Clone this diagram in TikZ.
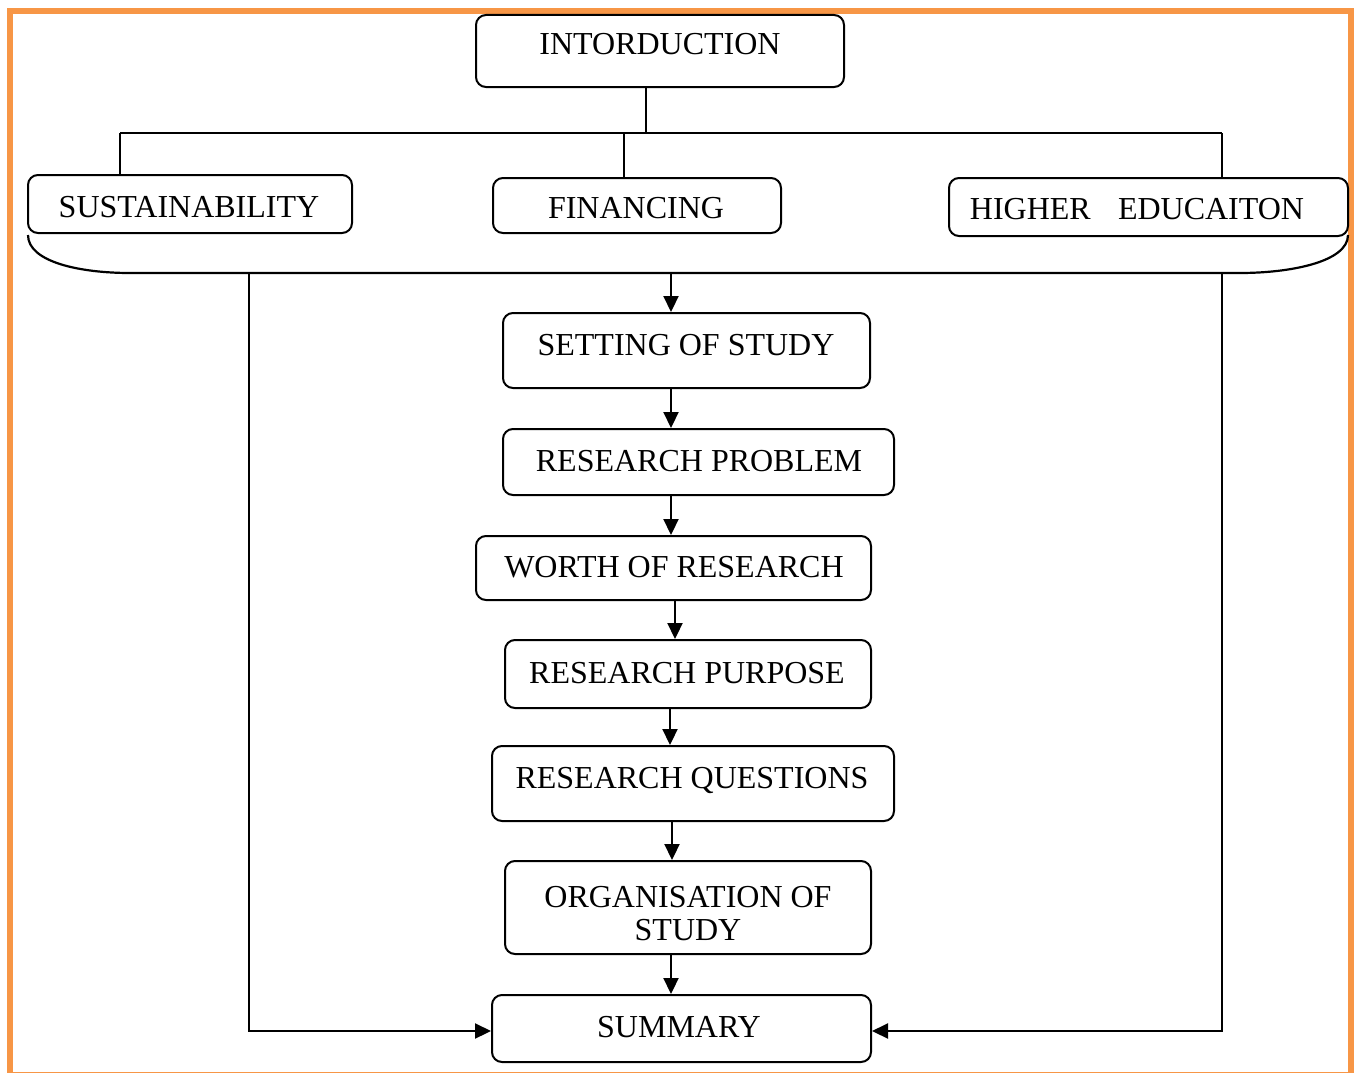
\documentclass[tikz,border=0pt]{standalone}
\usepackage{fontspec}
\setmainfont{Liberation Serif}
\usetikzlibrary{arrows.meta,fit}
\definecolor{frameorange}{HTML}{F79646}
\begin{document}
\begin{tikzpicture}[x=1pt,y=-1pt,
  box/.style={draw, line width=2pt, rounded corners=10pt, inner sep=0pt},
  lbl/.style={anchor=base, inner sep=0pt, align=center,
              font=\fontsize{32}{33}\selectfont},
  link/.style={line width=2.2pt},
  arr/.style={line width=2.2pt, -{Triangle[length=16pt,width=15pt]}}]
\useasboundingbox (0,0) rectangle (1357,1073);
% outer frame
\draw[frameorange, line width=6pt] (10,11) rectangle (1351,1075);

% boxes
\node[box, fit={(476,15) (844,87)}]    (intro) {};
\node[box, fit={(28,175) (352,233)}]   (sust) {};
\node[box, fit={(493,178) (781,233)}]  (fin) {};
\node[box, fit={(949,178) (1348,236)}] (high) {};
\node[box, fit={(503,313) (870,388)}]  (setting) {};
\node[box, fit={(503,429) (894,495)}]  (problem) {};
\node[box, fit={(476,536) (871,600)}]  (worth) {};
\node[box, fit={(505,640) (871,708)}]  (purpose) {};
\node[box, fit={(492,746) (894,821)}]  (questions) {};
\node[box, fit={(505,861) (871,954)}]  (org) {};
\node[box, fit={(492,995) (871,1062)}] (summary) {};

% labels (the two-line label is placed by the baseline of its last line)
\node[lbl] (intro-t)     at (660,55)   {INTORDUCTION};
\node[lbl] (sust-t)      at (189,217)  {SUSTAINABILITY};
\node[lbl] (fin-t)       at (636,218)  {FINANCING};
\node[lbl] (high-t)      at (1137,219) {HIGHER\hspace{0.85em}EDUCAITON};
\node[lbl] (setting-t)   at (686,355)  {SETTING OF STUDY};
\node[lbl] (problem-t)   at (699,471)  {RESEARCH PROBLEM};
\node[lbl] (worth-t)     at (674,577)  {WORTH OF RESEARCH};
\node[lbl] (purpose-t)   at (687,683)  {RESEARCH PURPOSE};
\node[lbl] (questions-t) at (692,788)  {RESEARCH QUESTIONS};
\node[lbl] (org-t)       at (688,940)  {ORGANISATION OF\\STUDY};
\node[lbl] (summary-t)   at (679,1037) {SUMMARY};

% junctions
\coordinate (j0) at (646,133);
\coordinate (jl) at (120,133);
\coordinate (jm) at (624,133);
\coordinate (jr) at (1222,133);
\coordinate (bl) at (130,273);
\coordinate (br) at (1240,273);
\coordinate (b0) at (671,273);
\coordinate (ll) at (249,273);
\coordinate (rr) at (1222,273);
\coordinate (sy) at (0,1031);
\coordinate (c671) at (671,0);
\coordinate (c675) at (675,0);
\coordinate (c670) at (670,0);
\coordinate (c672) at (672,0);

% introduction branches
\draw[link] (intro.south -| j0) -- (j0);
\draw[link] (jl) -- (jr);
\draw[link] (jl) -- (sust.north -| jl);
\draw[link] (jm) -- (fin.north -| jm);
\draw[link] (jr) -- (high.north -| jr);

% grouping brace under the three topics
\draw[link] (28,235) .. controls (28,262) and (80,273) .. (bl) -- (br)
            .. controls (1290,273) and (1348,262) .. (1348,235);

% main flow
\draw[arr] (b0) -- (setting.north -| b0);
\draw[arr] (setting.south -| c671) -- (problem.north -| c671);
\draw[arr] (problem.south -| c671) -- (worth.north -| c671);
\draw[arr] (worth.south -| c675) -- (purpose.north -| c675);
\draw[arr] (purpose.south -| c670) -- (questions.north -| c670);
\draw[arr] (questions.south -| c672) -- (org.north -| c672);
\draw[arr] (org.south -| c671) -- (summary.north -| c671);

% side feeds into the summary
\draw[arr] (ll) |- (summary.west |- sy);
\draw[arr] (rr) |- (summary.east |- sy);
\end{tikzpicture}
\end{document}
